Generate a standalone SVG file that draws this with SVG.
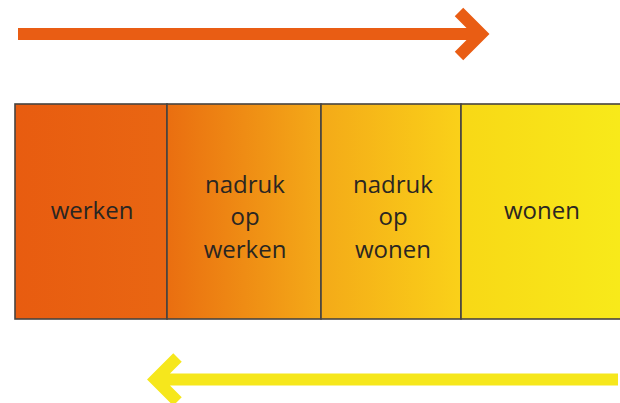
<svg xmlns="http://www.w3.org/2000/svg" width="620" height="403" viewBox="0 0 620 403">
  <defs>
    <linearGradient id="g1" x1="0" y1="0" x2="1" y2="0">
      <stop offset="0" stop-color="#E85C10"/>
      <stop offset="1" stop-color="#E96612"/>
    </linearGradient>
    <linearGradient id="g2" x1="0" y1="0" x2="1" y2="0">
      <stop offset="0" stop-color="#EA6E10"/>
      <stop offset="1" stop-color="#F4AA18"/>
    </linearGradient>
    <linearGradient id="g3" x1="0" y1="0" x2="1" y2="0">
      <stop offset="0" stop-color="#F4AA18"/>
      <stop offset="1" stop-color="#FAD119"/>
    </linearGradient>
    <linearGradient id="g4" x1="0" y1="0" x2="1" y2="0">
      <stop offset="0" stop-color="#F8D816"/>
      <stop offset="1" stop-color="#F8EA1A"/>
    </linearGradient>
  </defs>
  <style>
    .cell { stroke: #484440; stroke-width: 1.6; }
    .lbl { font-family: "Open Sans", "DejaVu Sans", sans-serif; font-size: 24px; font-weight: 500; fill: #2a2622; text-anchor: middle; }
    .arrow { fill: none; stroke-width: 12; stroke-linejoin: miter; stroke-linecap: butt; stroke-miterlimit: 10; }
  </style>
  <rect width="620" height="403" fill="#ffffff"/>

  <g id="node-werken">
    <rect class="cell" x="15" y="104" width="152" height="215" fill="url(#g1)"/>
    <text class="lbl" x="92" y="219">werken</text>
  </g>
  <g id="node-nadruk-werken">
    <rect class="cell" x="167" y="104" width="154" height="215" fill="url(#g2)"/>
    <text class="lbl" x="245" y="193">nadruk</text>
    <text class="lbl" x="245" y="225">op</text>
    <text class="lbl" x="245" y="258">werken</text>
  </g>
  <g id="node-nadruk-wonen">
    <rect class="cell" x="321" y="104" width="140" height="215" fill="url(#g3)"/>
    <text class="lbl" x="393" y="193">nadruk</text>
    <text class="lbl" x="393" y="225">op</text>
    <text class="lbl" x="393" y="258">wonen</text>
  </g>
  <g id="node-wonen">
    <rect class="cell" x="461" y="104" width="162" height="215" fill="url(#g4)"/>
    <text class="lbl" x="542" y="219">wonen</text>
  </g>

  <g id="connectors">
    <path class="arrow" stroke="#E95D14" d="M18,34 H481 M459,12 L481,34 L459,56"/>
    <path class="arrow" stroke="#F6E71C" d="M618,379.5 H155.5 M177.5,357.5 L155.5,379.5 L177.5,401.5"/>
  </g>
</svg>
